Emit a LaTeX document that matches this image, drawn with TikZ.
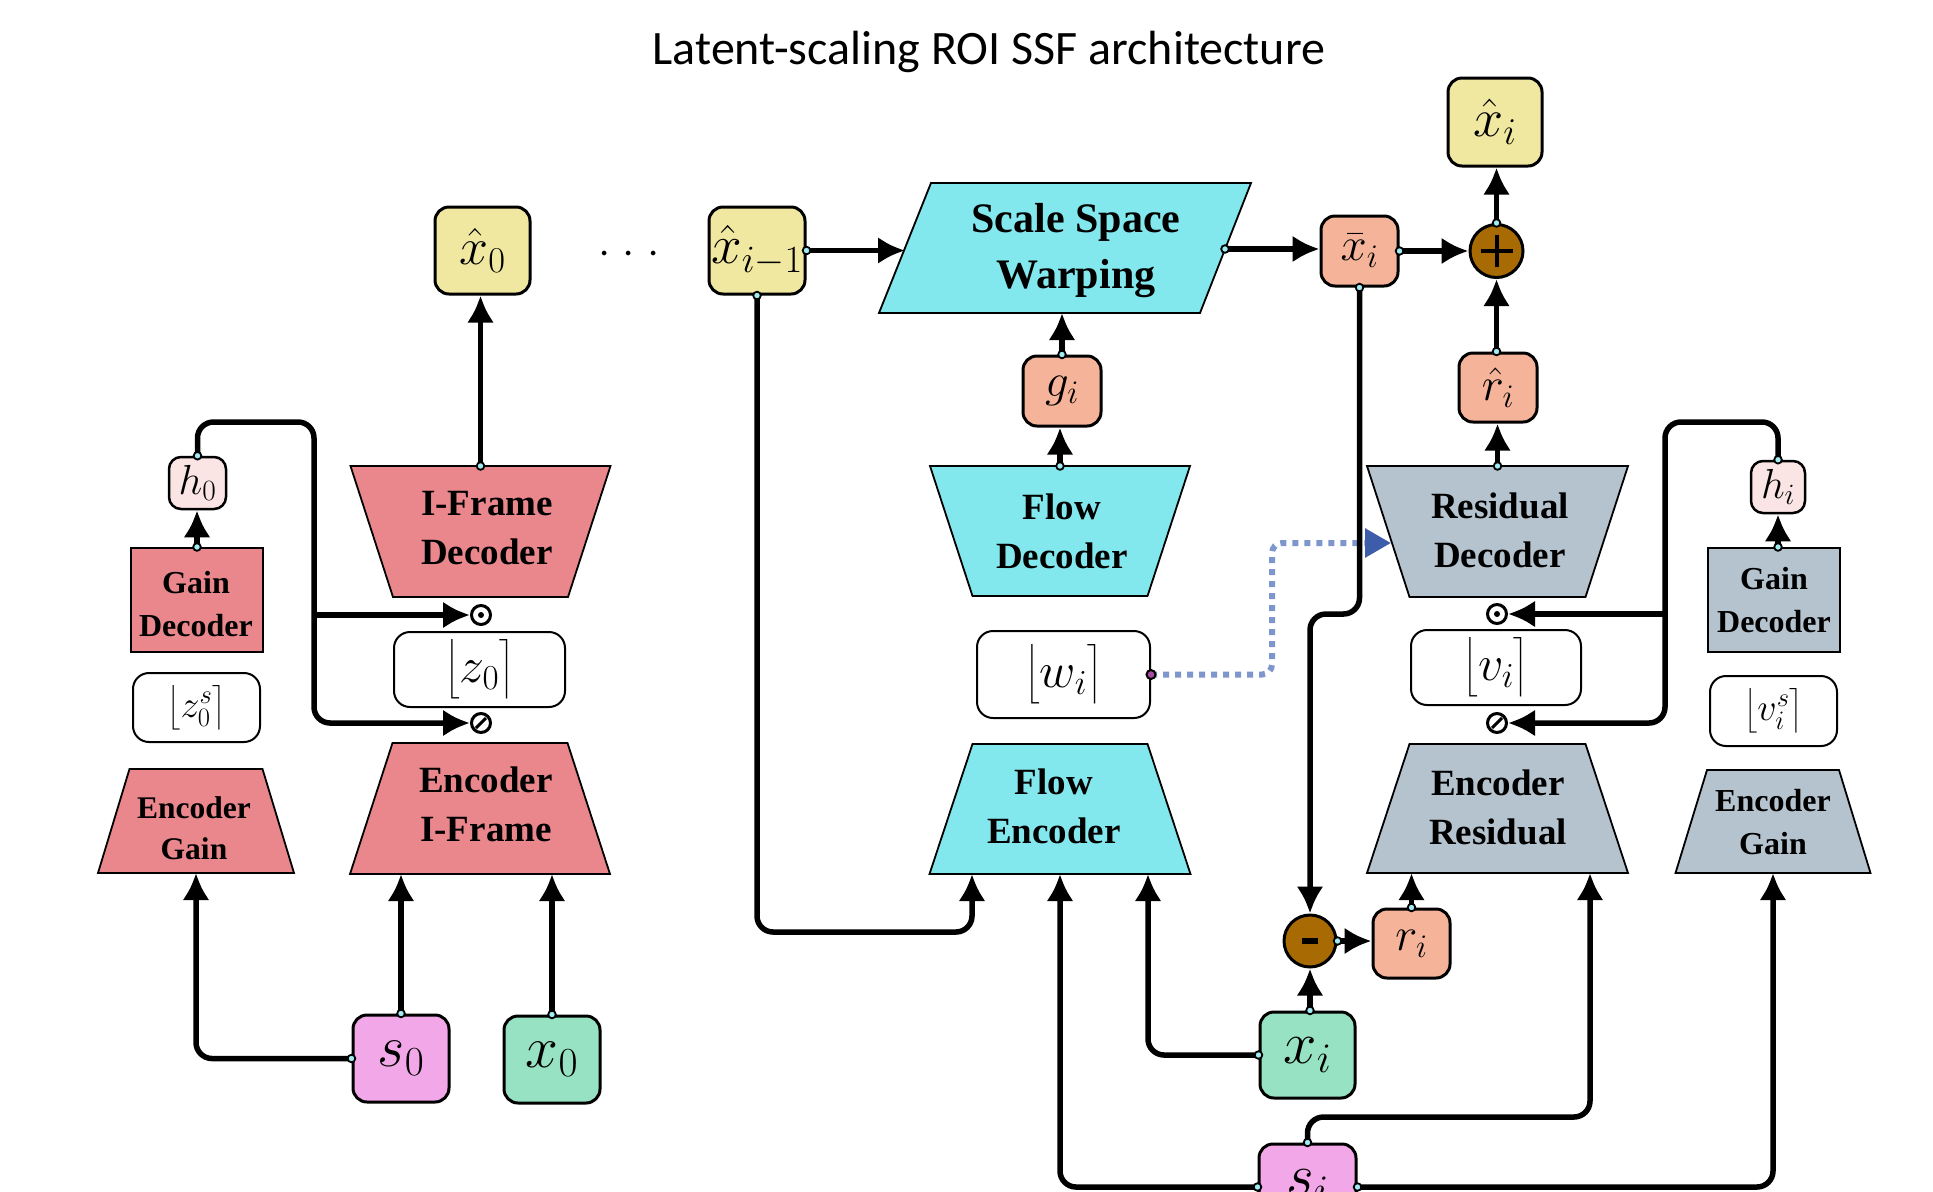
\RequirePackage{fix-cm}
\documentclass[tikz,border=0pt]{standalone}
\usepackage{amsmath}
\usepackage{fontspec}
\setmainfont{Liberation Serif}
\newfontfamily\titlefont{Carlito}
\usetikzlibrary{arrows.meta}
\definecolor{cRed}{HTML}{E9878D}
\definecolor{cCyan}{HTML}{83E8EE}
\definecolor{cGray}{HTML}{B5C3CF}
\definecolor{cYel}{HTML}{F0E8A0}
\definecolor{cSal}{HTML}{F5B39A}
\definecolor{cGrn}{HTML}{98E2C4}
\definecolor{cPnk}{HTML}{F2A8E8}
\definecolor{cHpk}{HTML}{FAE4E4}
\definecolor{cBrn}{HTML}{A86A02}
\definecolor{cDot}{HTML}{7E96CC}
\definecolor{cDotHead}{HTML}{3D5CAA}
\definecolor{cCyanDot}{HTML}{A0EAF2}
\newcommand{\fsz}[2]{\fontsize{#1bp}{#2bp}\selectfont}
\newcommand{\sdot}[1]{\filldraw[draw=black, fill=cCyanDot, line width=1.8bp] #1 circle (3.8bp);}
% name, cx, ytop, ybot, halftop, halfbot, fill
\newcommand{\trapz}[7]{%
  \draw[trapline, fill=#7] ({#2-#5},#3) -- ({#2+#5},#3) -- ({#2+#6},#4) -- ({#2-#6},#4) -- cycle;
  \coordinate (#1t) at (#2,#3);
  \coordinate (#1b) at (#2,#4);
}
\begin{document}
\begin{tikzpicture}[x=1bp,y=-1bp,
  conn/.style={line width=5.5bp},
  arr/.style={conn, -{Latex[length=27bp,width=27bp]}},
  rc/.style={rounded corners=16bp},
  mathbox/.style={draw=black, line width=3bp, rounded corners=14bp, inner sep=0pt},
  floorbox/.style={draw=black, line width=2bp, rounded corners=16bp, fill=white, inner sep=0pt},
  trapline/.style={draw=black, line width=1.8bp},
  lbl/.style={align=center, inner sep=0pt, font=\bfseries\fsz{37}{49}},
  slbl/.style={align=center, inner sep=0pt, font=\bfseries\fsz{32}{43}},
  gbox/.style={draw=black, line width=2bp, inner sep=0pt},
  opnode/.style={circle, draw=black, line width=3bp, fill=white, minimum size=19bp, inner sep=0pt},
  sumnode/.style={circle, draw=black, line width=3bp, fill=cBrn, minimum size=53bp, inner sep=0pt},
  dotline/.style={draw=cDot, line width=6bp, dash pattern=on 6bp off 6bp, rounded corners=10bp, -{Triangle[length=26bp,width=28bp,color=cDotHead]}}
]
\useasboundingbox (0,0) rectangle (1933,1191);
\clip (0,0) rectangle (1933,1191);

% title
\node[font=\titlefont\fsz{48}{56}, anchor=base] (title) at (989,64) {Latent-scaling ROI SSF architecture};

% ---------------- left (I-frame) ----------------
\node[mathbox, fill=cYel, minimum width=95bp, minimum height=87bp, font=\fsz{52}{62}] (xh0) at (482.5,250.5) {$\hat{x}_0$};
\node[anchor=base, font=\fsz{44}{50}, inner sep=0pt] (dots) at (629,264) {${\cdot}\hspace{12bp}{\cdot}\hspace{12bp}{\cdot}$};

\trapz{ifd}{480.5}{466}{597}{130}{87.5}{cRed}
\node[lbl] (ifd) at (487,528) {I-Frame\\Decoder};
\node[opnode] (od0) at (481,615) {};
\fill (od0.center) circle (3bp);
\node[floorbox, minimum width=171bp, minimum height=75bp, font=\fsz{50}{60}] (z0) at (479.5,669.5) {$\bigl\lfloor z_0\bigr\rceil$};
\node[opnode] (os0) at (481,723) {};
\draw[line width=3bp] (os0.center) ++(-5,5) -- ++(10,-10);
\trapz{enci}{480}{743}{874}{87.5}{130}{cRed}
\node[lbl] (enci) at (486,804) {Encoder\\I-Frame};

\node[mathbox, line width=2.5bp, rounded corners=12bp, fill=cHpk, minimum width=57bp, minimum height=52bp, font=\fsz{42}{50}] (h0) at (197.5,483) {$h_0$};
\node[gbox, fill=cRed, minimum width=132bp, minimum height=104bp] (gdl) at (197,600) {};
\node[slbl] (gdlt) at (196,604) {Gain\\Decoder};
\node[floorbox, minimum width=127bp, minimum height=69bp, font=\fsz{38}{46}] (z0s) at (196.5,707.5) {$\bigl\lfloor z^s_0\bigr\rceil$};
\trapz{encgl}{196}{769}{873}{66.5}{98}{cRed}
\node[slbl, font=\bfseries\fsz{31.5}{41}] (encgl) at (194,828) {Encoder\\Gain};

\node[mathbox, fill=cPnk, minimum width=96bp, minimum height=87bp, font=\fsz{59}{70}] (s0) at (401,1058.5) {$s_0$};
\node[mathbox, fill=cGrn, minimum width=96bp, minimum height=87bp, font=\fsz{59}{70}] (x0) at (552,1059.5) {$x_0$};

% left connectors
\draw[arr] (ifdt) -- (ifdt |- xh0.south);
\draw[arr] (gdl.north) -- (gdl.north |- h0.south);
\coordinate (jl) at (314,422);
\draw[arr, rc] (h0.north) |- (jl) -- (jl |- os0) -- (os0.west);
\draw[arr] (jl |- od0) -- (od0.west);
\draw[arr] (s0.north) -- (s0.north |- encib);
\draw[arr] (x0.north) -- (x0.north |- encib);
\draw[arr, rc] (s0.west) -| (encglb);
\sdot{(ifdt)} \sdot{(gdl.north)} \sdot{(h0.north)} \sdot{(s0.north)} \sdot{(x0.north)} \sdot{(s0.west)}

% ---------------- middle (flow) ----------------
\node[mathbox, fill=cYel, minimum width=96bp, minimum height=87bp, font=\fsz{55}{64}] (xim1) at (757,250.5) {$\hat{x}_{i-1}$};
\draw[trapline, fill=cCyan] (931,183) -- (1251,183) -- (1200,313) -- (879,313) -- cycle;
\node[lbl, font=\bfseries\fsz{42}{56}] (ssw) at (1076,251) {Scale Space\\Warping};
\coordinate (sswL) at (905,250);
\coordinate (sswR) at (1225,249);
\coordinate (sswB) at (1062,313);

\node[mathbox, fill=cSal, minimum width=78bp, minimum height=70bp, font=\fsz{47}{56}] (gi) at (1062,391) {$g_i$};
\trapz{fd}{1060}{466}{596}{130}{87.5}{cCyan}
\node[lbl] (fd) at (1062,531) {Flow\\Decoder};
\node[floorbox, minimum width=173bp, minimum height=87bp, font=\fsz{50}{60}] (wi) at (1063.5,674.5) {$\bigl\lfloor w_i\bigr\rceil$};
\trapz{fe}{1060}{744}{874}{87.5}{130.5}{cCyan}
\node[lbl] (fe) at (1054,806) {Flow\\Encoder};
\coordinate (fein) at (1148,874);
\coordinate (fexh) at (972,874);

% ---------------- right (residual) ----------------
\node[mathbox, fill=cSal, minimum width=77bp, minimum height=70bp, font=\fsz{47}{56}] (xbar) at (1359.5,251) {$\bar{x}_i$};
\node[sumnode] (plus) at (1496.5,251) {};
\draw[line width=4bp] (plus.center) ++(-16,0) -- ++(32,0);
\draw[line width=4bp] (plus.center) ++(0,-16) -- ++(0,32);
\node[mathbox, fill=cYel, minimum width=94bp, minimum height=88bp, font=\fsz{54}{64}] (xhi) at (1495,122) {$\hat{x}_i$};
\node[mathbox, fill=cSal, minimum width=78bp, minimum height=69bp, font=\fsz{47}{56}] (rhat) at (1498,387.5) {$\hat{r}_i$};
\trapz{rd}{1497.5}{466}{597}{130.5}{88}{cGray}
\node[lbl] (rd) at (1500,530) {Residual\\Decoder};
\coordinate (rdL) at (1391,543);
\node[opnode] (odR) at (1497,614) {};
\fill (odR.center) circle (3bp);
\node[floorbox, minimum width=170bp, minimum height=75bp, font=\fsz{50}{60}] (vi) at (1496,667.5) {$\bigl\lfloor v_i\bigr\rceil$};
\node[opnode] (osR) at (1497,723) {};
\draw[line width=3bp] (osR.center) ++(-5,5) -- ++(10,-10);
\trapz{er}{1497.5}{744}{873}{88}{130.5}{cGray}
\node[lbl] (er) at (1498,807) {Encoder\\Residual};

\node[mathbox, line width=2.5bp, rounded corners=12bp, fill=cHpk, minimum width=54bp, minimum height=52bp, font=\fsz{42}{50}] (hi) at (1778,487) {$h_i$};
\node[gbox, fill=cGray, minimum width=132bp, minimum height=104bp] (gdr) at (1774,600) {};
\node[slbl] (gdrt) at (1774,600) {Gain\\Decoder};
\node[floorbox, minimum width=127bp, minimum height=70bp, font=\fsz{38}{46}] (vis) at (1773.5,711) {$\bigl\lfloor v^s_i\bigr\rceil$};
\trapz{egr}{1773}{770}{873}{66}{97.5}{cGray}
\node[slbl] (egr) at (1773,822) {Encoder\\Gain};

\node[sumnode, minimum size=52bp] (minus) at (1310,941) {};
\fill (minus.center) ++(-8,-3) rectangle ++(16,6);
\node[mathbox, fill=cGrn, minimum width=95bp, minimum height=86bp, font=\fsz{60}{70}] (xi) at (1307.5,1055) {$x_i$};
\node[mathbox, fill=cSal, minimum width=77bp, minimum height=69bp, font=\fsz{47}{56}] (ri) at (1411.5,943.5) {$r_i$};
\node[mathbox, fill=cPnk, minimum width=97bp, minimum height=86bp, font=\fsz{60}{70}] (si) at (1307.5,1187) {$s_i$};

% middle/right connectors
\draw[arr] (xim1.east) -- (xim1.east -| sswL);
\draw[arr] (gi.north) -- (gi.north |- sswB);
\draw[arr] (fdt) -- (fdt |- gi.south);
\coordinate (dj) at (1272,543);
\draw[dotline] (wi.east) -| (dj) -- (rdL);
\coordinate (xl) at (972,932);
\draw[arr, rc] (xim1.south) |- (xl) -- (fexh);
\draw[arr, rc] (si.west) -| (feb);
\draw[arr, rc] (xi.west) -| (fein);
\draw[arr] (sswR) -- (sswR -| xbar.west);
\draw[arr] (xbar.east) -- (plus.west);
\draw[arr] (plus.north) -- (plus.north |- xhi.south);
\draw[arr] (plus.south |- rhat.north) -- (plus.south);
\draw[arr] (rdt) -- (rdt |- rhat.south);
\coordinate (jr) at (1665,422);
\draw[arr, rc] (hi.north) |- (jr) -- (jr |- osR) -- (osR.east);
\draw[arr] (jr |- odR) -- (odR.east);
\draw[arr] (gdr.north -| hi.south) -- (hi.south);
\coordinate (xj) at (1310,614);
\draw[arr, rc] (xbar.south) |- (xj) -- (minus.north);
\draw[arr] (minus.south |- xi.north) -- (minus.south);
\draw[arr] (minus.east) -- (minus.east -| ri.west);
\draw[arr] (ri.north) -- (ri.north |- erb);
\coordinate (sj) at (1590,1117);
\draw[arr, rc] (si.north) |- (sj) -- (sj |- erb);
\draw[arr, rc] (si.east) -| (egrb);

\sdot{(xim1.east)} \sdot{(gi.north)} \sdot{(fdt)} \sdot{(xim1.south)} \sdot{(si.west)} \sdot{(xi.west)}
\sdot{(sswR)} \sdot{(xbar.east)} \sdot{(plus.north)} \sdot{(plus.south |- rhat.north)} \sdot{(rdt)}
\sdot{(hi.north)} \sdot{(gdr.north -| hi.south)} \sdot{(xbar.south)} \sdot{(minus.south |- xi.north)}
\sdot{(minus.east)} \sdot{(ri.north)} \sdot{(si.north)} \sdot{(si.east)}
\filldraw[draw=black, fill=violet!70, line width=2bp] (wi.east) circle (4.5bp);
\end{tikzpicture}
\end{document}
